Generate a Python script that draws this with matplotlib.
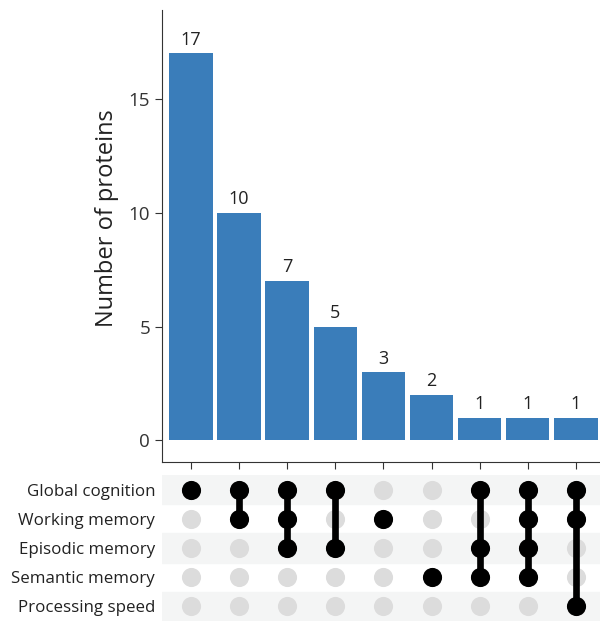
import numpy as np
import matplotlib.pyplot as plt
import matplotlib
matplotlib.rcParams.update({'font.family': ['Open Sans', 'DejaVu Sans'], 'font.size': 12})

# cognitive domains (matrix rows, top to bottom)
domains = ['Global cognition', 'Working memory', 'Episodic memory',
           'Semantic memory', 'Processing speed']
# intersection sizes, in plotted order
counts = [17, 10, 7, 5, 3, 2, 1, 1, 1]
# domain membership of each intersection (row indices)
members = [[0], [0, 1], [0, 1, 2], [0, 2], [1], [3], [0, 2, 3], [0, 1, 2, 3], [0, 1, 4]]

bar_color = '#3a7dba'
x = np.arange(len(counts))

fig = plt.figure(figsize=(6, 6.21), dpi=100)
ax1 = fig.add_axes([0.27, 0.256, 0.73, 0.728])
ax2 = fig.add_axes([0.27, 0.0, 0.73, 0.235])

# bars with counts on top
ax1.bar(x, counts, width=0.9, color=bar_color)
for xi, c in zip(x, counts):
    ax1.text(xi, c + 0.2, str(c), ha='center', va='bottom', fontsize=13, color='#222222')
ax1.set_xlim(-0.6, 8.5)
ax1.set_ylim(-0.95, 18.9)
ax1.set_yticks([0, 5, 10, 15])
ax1.set_xticks(x)
ax1.set_xticklabels([])
ax1.spines['top'].set_visible(False)
ax1.spines['right'].set_visible(False)
ax1.spines['left'].set_color('#333333')
ax1.spines['bottom'].set_color('#333333')
ax1.tick_params(axis='both', color='#333333', length=5, labelsize=13.5, labelcolor='#333333')
ax1.set_ylabel('Number of proteins', fontsize=17, color='#222222')
ax1.yaxis.set_label_coords(-0.098, 0.54)

# matrix: striped rows, grey dots, black dots joined by a line
nrows = len(domains)
for r in range(nrows):
    if r % 2 == 0:
        ax2.axhspan(r - 0.5, r + 0.5, color='#f4f5f5', zorder=0)
for xi in x:
    ax2.scatter([xi] * nrows, range(nrows), s=190, color='#dcdcdc', zorder=1, linewidths=0)
for xi, m in zip(x, members):
    if len(m) > 1:
        ax2.plot([xi, xi], [min(m), max(m)], color='black', lw=4.8, zorder=2, solid_capstyle='butt')
    ax2.scatter([xi] * len(m), m, s=190, color='black', zorder=3, linewidths=0)
ax2.set_xlim(-0.6, 8.5)
ax2.set_ylim(nrows - 0.5, -0.5)
ax2.set_yticks(range(nrows))
ax2.set_yticklabels(domains, fontsize=12.2, color='#222222')
ax2.set_xticks([])
ax2.tick_params(axis='y', length=0, pad=5)
for s in ax2.spines.values():
    s.set_visible(False)

plt.savefig('out.png', dpi=100)
